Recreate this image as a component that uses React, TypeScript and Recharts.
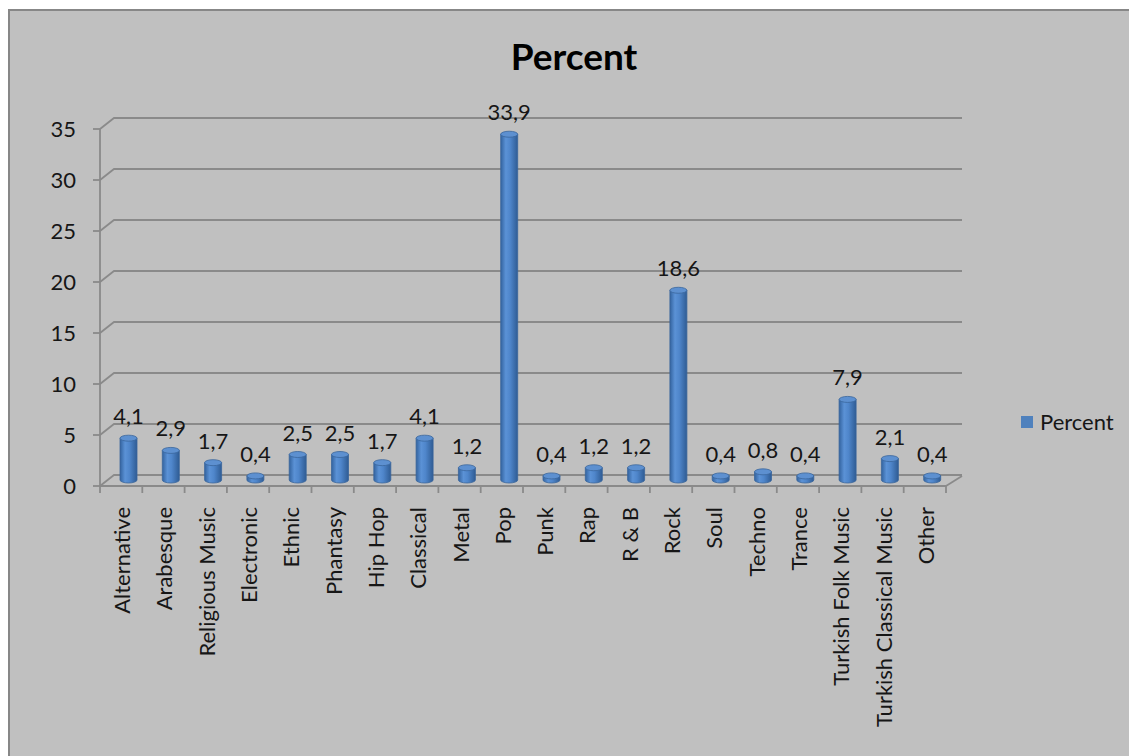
import { BarChart, Bar, XAxis, YAxis, CartesianGrid, LabelList, Legend } from "recharts";

const genres = [
  "Alternative",
  "Arabesque",
  "Religious Music",
  "Electronic",
  "Ethnic",
  "Phantasy",
  "Hip Hop",
  "Classical",
  "Metal",
  "Pop",
  "Punk",
  "Rap",
  "R & B",
  "Rock",
  "Soul",
  "Techno",
  "Trance",
  "Turkish Folk Music",
  "Turkish Classical Music",
  "Other",
];
const percents = [4.1, 2.9, 1.7, 0.4, 2.5, 2.5, 1.7, 4.1, 1.2, 33.9, 0.4, 1.2, 1.2, 18.6, 0.4, 0.8, 0.4, 7.9, 2.1, 0.4];
const yTicks = [0, 5, 10, 15, 20, 25, 30, 35];

const data = genres.map((name, i) => ({ name, percent: percents[i] }));

const W = 1129;
const H = 756;
const LEFT = 100;
const RIGHT = 183;
const TOP = 129;
const AXIS_H = 270;
const BAND = (W - LEFT - RIGHT) / genres.length;

// depth offsets for the pseudo-3d walls and bars
const WALL_DX = 14;
const WALL_DY = -11;
const BAR_DX = 7;
const BAR_DY = -6;

const FONT = "Lato, 'Noto Sans', sans-serif";
const GRID = "#8a8a8a";
const TEXT = "#161616";

const fmt = (v: number) => v.toString().replace(".", ",");

const WallLine = (p: any) => {
  const { x1, y1, x2, y, height } = p;
  const isFloor = Math.abs(y1 - (y + height)) < 1;
  const d = `M${x1},${y1} L${x1 + WALL_DX},${y1 + WALL_DY} L${x2 + 16},${y1 + WALL_DY}`;
  return (
    <g key={p.key}>
      <path d={d} fill="none" stroke={GRID} strokeWidth={1.8} />
      {isFloor && (
        <path d={`M${x2},${y1} L${x2 + 16},${y1 + WALL_DY + 1}`} fill="none" stroke={GRID} strokeWidth={1.8} />
      )}
    </g>
  );
};

const Cylinder = (p: any) => {
  const { x, y, width, height, index } = p;
  const left = x + BAR_DX;
  const right = left + width;
  const cx = left + width / 2;
  const top = y + BAR_DY;
  const bottom = y + height + BAR_DY;
  const rx = width / 2;
  const ry = 3;
  const gid = `cyl-${index}`;
  return (
    <g>
      <defs>
        <linearGradient id={gid} x1="0" y1="0" x2="1" y2="0">
          <stop offset="0%" stopColor="#33639f" />
          <stop offset="30%" stopColor="#5b92d6" />
          <stop offset="55%" stopColor="#4f86cb" />
          <stop offset="100%" stopColor="#2f5c94" />
        </linearGradient>
      </defs>
      <path
        d={`M${left},${top} L${left},${bottom} A${rx},${ry} 0 0 0 ${right},${bottom} L${right},${top} Z`}
        fill={`url(#${gid})`}
        stroke="#3a669c"
        strokeWidth={0.8}
      />
      <ellipse cx={cx} cy={top} rx={rx} ry={ry} fill="#5d90d0" stroke="#3a669c" strokeWidth={0.8} />
    </g>
  );
};

const ValueLabel = (p: any) => {
  const { x, y, width, value } = p;
  return (
    <text
      x={x + width / 2 + BAR_DX}
      y={y + BAR_DY - 14}
      textAnchor="middle"
      fill={TEXT}
      fontSize={22}
      fontFamily={FONT}
    >
      {fmt(value)}
    </text>
  );
};

const GenreTick = (p: any) => {
  const { x, y, payload, index } = p;
  const last = index === genres.length - 1;
  return (
    <g>
      {index === 0 && <line x1={x - BAND / 2} y1={y} x2={x - BAND / 2} y2={y + 7} stroke={GRID} strokeWidth={1.8} />}
      <line x1={x + BAND / 2} y1={y} x2={x + BAND / 2} y2={y + 7} stroke={GRID} strokeWidth={1.8} />
      <g transform={`translate(${x + 9},${y + 21}) rotate(-90)`}>
        <text x={0} y={0} textAnchor="end" fill={TEXT} fontSize={22} fontFamily={FONT}>
          {payload.value}
        </text>
      </g>
      {last && null}
    </g>
  );
};

const LegendBox = () => (
  <div style={{ display: "flex", alignItems: "center", fontFamily: FONT, fontSize: 22, color: TEXT }}>
    <span style={{ width: 12, height: 12, background: "#4f81bd", display: "inline-block", marginRight: 7 }} />
    <span>Percent</span>
  </div>
);

export default function App() {
  return (
    <div style={{ position: "fixed", left: 0, top: 0, width: W, height: H, overflow: "hidden", background: "#fff" }}>
      <div
        style={{
          position: "absolute",
          left: 8,
          top: 9,
          width: W + 40,
          height: H + 40,
          border: "2px solid #878787",
          background: "#c0c0c0",
        }}
      />
      <div
        style={{
          position: "absolute",
          left: 0,
          width: 1148,
          top: 37,
          textAlign: "center",
          fontFamily: FONT,
          fontWeight: 700,
          fontSize: 37,
          lineHeight: "37px",
          color: "#000",
        }}
      >
        Percent
      </div>
      <div style={{ position: "absolute", left: 0, top: 0 }}>
        <BarChart width={W} height={H} data={data} margin={{ top: TOP, right: RIGHT, left: 0, bottom: 0 }}>
          <CartesianGrid vertical={false} horizontal={WallLine} />
          <XAxis
            dataKey="name"
            interval={0}
            height={AXIS_H}
            tickSize={0}
            tickMargin={0}
            tickLine={false}
            axisLine={{ stroke: GRID, strokeWidth: 1.8 }}
            tick={GenreTick}
          />
          <YAxis
            width={LEFT}
            domain={[0, 35]}
            ticks={yTicks}
            tickSize={7}
            tickMargin={17}
            axisLine={{ stroke: GRID, strokeWidth: 1.8 }}
            tickLine={{ stroke: GRID, strokeWidth: 1.8 }}
            tick={{ fill: TEXT, fontSize: 22, fontFamily: FONT }}
          />
          <Legend
            layout="horizontal"
            verticalAlign="middle"
            align="center"
            wrapperStyle={{ position: "absolute", left: 1021, top: 408, width: 110 }}
            content={LegendBox}
          />
          <Bar dataKey="percent" name="Percent" barSize={17} shape={Cylinder} isAnimationActive={false}>
            <LabelList dataKey="percent" content={ValueLabel} />
          </Bar>
        </BarChart>
      </div>
    </div>
  );
}
